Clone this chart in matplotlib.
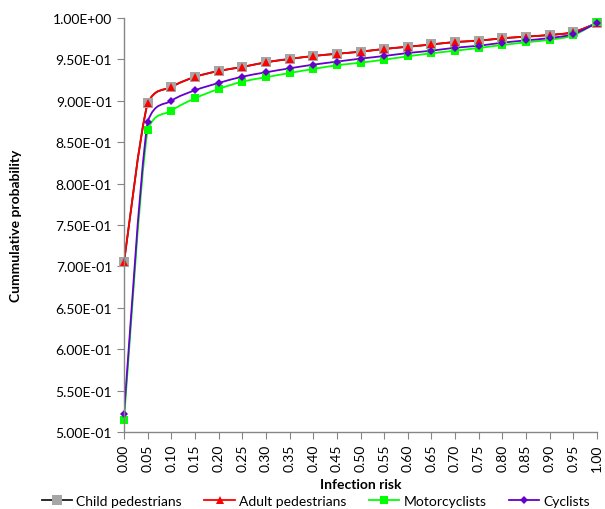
import numpy as np
import matplotlib
matplotlib.use("Agg")
import matplotlib.pyplot as plt
from matplotlib.path import Path
from matplotlib.patches import PathPatch
from matplotlib.lines import Line2D
from matplotlib.ticker import FuncFormatter

plt.rcParams['font.family'] = ['Lato', 'DejaVu Sans']

risk = [0.00, 0.05, 0.10, 0.15, 0.20, 0.25, 0.30, 0.35, 0.40, 0.45, 0.50,
        0.55, 0.60, 0.65, 0.70, 0.75, 0.80, 0.85, 0.90, 0.95, 1.00]

child = [0.705, 0.897, 0.9167, 0.9288, 0.936, 0.9408, 0.9465, 0.9505, 0.9541,
         0.9568, 0.9593, 0.9626, 0.9653, 0.968, 0.971, 0.9726, 0.9755, 0.9775,
         0.9795, 0.983, 0.994]
adult = [0.705, 0.897, 0.9167, 0.9288, 0.936, 0.9408, 0.9465, 0.9505, 0.9541,
         0.9568, 0.9593, 0.9626, 0.9653, 0.968, 0.971, 0.9726, 0.9755, 0.9775,
         0.9795, 0.983, 0.994]
motorcyclists = [0.515, 0.865, 0.888, 0.903, 0.9143, 0.9231, 0.9284, 0.9336,
                 0.9384, 0.9429, 0.946, 0.9497, 0.9537, 0.9574, 0.9605, 0.9638,
                 0.9674, 0.9706, 0.9738, 0.9791, 0.995]
cyclists = [0.522, 0.875, 0.900, 0.9127, 0.9215, 0.9291, 0.9344, 0.9392,
            0.9436, 0.9473, 0.9509, 0.9541, 0.9577, 0.9605, 0.9641, 0.9665,
            0.9702, 0.973, 0.9758, 0.9807, 0.994]

x_ticks = risk


def smooth_path(x, y):
    # smoothed line like Excel: Bezier segments, control points kept
    # between the neighbouring points so the curve does not overshoot
    p = np.column_stack([x, y]).astype(float)
    verts = [p[0]]
    codes = [Path.MOVETO]
    n = len(p)
    for i in range(n - 1):
        p0 = p[i - 1] if i > 0 else p[i]
        p1 = p[i]
        p2 = p[i + 1]
        p3 = p[i + 2] if i + 2 < n else p[i + 1]
        c1 = p1 + (p2 - p0) / 6
        c2 = p2 - (p3 - p1) / 6
        lo, hi = min(p1[1], p2[1]), max(p1[1], p2[1])
        c1[1] = np.clip(c1[1], lo, hi)
        c2[1] = np.clip(c2[1], lo, hi)
        verts += [c1, c2, p2]
        codes += [Path.CURVE4] * 3
    return Path(verts, codes)


fig = plt.figure(figsize=(6.05, 5.1), dpi=100)
ax = fig.add_axes([124 / 605, 1 - 433 / 510, 473 / 605, 414 / 510])

series = [
    ("Child pedestrians", child, "#1a1a1a", "s", "#A6A6A6", 6.5),
    ("Adult pedestrians", adult, "#FF0000", "^", "#FF0000", 5.5),
    ("Motorcyclists", motorcyclists, "#00FF00", "s", "#00FF00", 5.5),
    ("Cyclists", cyclists, "#6600CC", "D", "#6600CC", 4),
]

handles = []
for label, vals, lc, mk, mc, ms in series:
    patch = PathPatch(smooth_path(risk, vals), facecolor="none", edgecolor=lc,
                      lw=1.3, transform=ax.transData)
    ax.add_patch(patch)
    ax.plot(risk, vals, linestyle="none", marker=mk, color=mc, markersize=ms,
            markeredgewidth=0, clip_on=False)
    handles.append(Line2D([], [], color=lc, lw=1.3, marker=mk, markerfacecolor=mc,
                          markeredgewidth=0, markersize=ms))

ax.set_xlim(0, 1)
ax.set_ylim(0.5, 1.0)
ax.set_xticks(x_ticks)
ax.set_xticklabels([f"{v:.2f}" for v in x_ticks], rotation=90)
ax.set_yticks(np.arange(0.5, 1.0001, 0.05))
ax.yaxis.set_major_formatter(FuncFormatter(lambda v, pos: f"{v:.2E}"))

for s in ["top", "right"]:
    ax.spines[s].set_visible(False)
for s in ["left", "bottom"]:
    ax.spines[s].set_color("#868686")
    ax.spines[s].set_linewidth(1)
ax.tick_params(axis="both", direction="out", length=5, color="#868686",
               labelsize=10, labelcolor="black")

ax.set_xlabel("Infection risk", fontsize=10, fontweight="bold", labelpad=5)
ax.set_ylabel("Cummulative probability", fontsize=10, fontweight="bold", labelpad=22)

fig.legend(handles, [s[0] for s in series], loc="center", ncol=4,
           bbox_to_anchor=(0.522, 1 - 502 / 510), frameon=False, fontsize=10,
           handlelength=2.2, columnspacing=1.6, handletextpad=0.3,
           borderpad=0, borderaxespad=0)

fig.savefig("out.png", dpi=100)
